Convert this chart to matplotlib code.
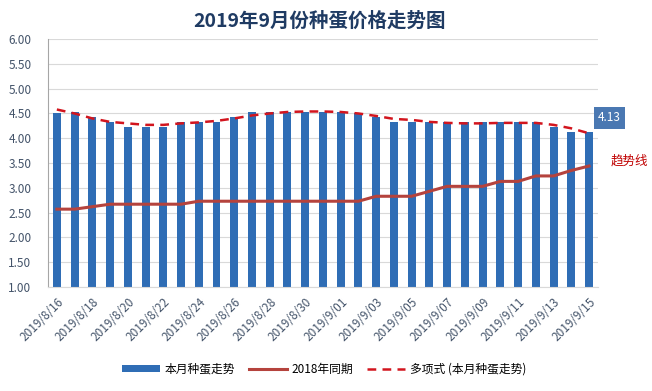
import numpy as np
import matplotlib
matplotlib.use("Agg")
import matplotlib.pyplot as plt

plt.rcParams['font.family'] = ['Noto Sans CJK SC', 'DejaVu Sans']

# 2019/8/16 .. 2019/9/15
dates = ['2019/8/%d' % d for d in range(16, 32)] + ['2019/9/%02d' % d for d in range(1, 16)]

price_2019 = [4.50, 4.53, 4.43, 4.33, 4.23, 4.23, 4.23, 4.33, 4.33, 4.33,
              4.43, 4.53, 4.53, 4.53, 4.53, 4.53, 4.53, 4.50, 4.43, 4.33,
              4.33, 4.33, 4.33, 4.33, 4.33, 4.33, 4.33, 4.33, 4.23, 4.13, 4.13]

price_2018 = [2.57, 2.57, 2.62, 2.67, 2.67, 2.67, 2.67, 2.67, 2.73, 2.73,
              2.73, 2.73, 2.73, 2.73, 2.73, 2.73, 2.73, 2.73, 2.83, 2.83,
              2.83, 2.93, 3.03, 3.03, 3.03, 3.13, 3.13, 3.24, 3.24, 3.35, 3.44]

trend = [4.58, 4.50, 4.40, 4.33, 4.30, 4.27, 4.27, 4.30, 4.32, 4.35,
         4.40, 4.46, 4.50, 4.53, 4.54, 4.54, 4.53, 4.50, 4.45, 4.39,
         4.37, 4.33, 4.31, 4.30, 4.30, 4.31, 4.31, 4.31, 4.27, 4.20, 4.10]

x = np.arange(len(dates))

fig = plt.figure(figsize=(6.52, 3.91), dpi=100)
ax = fig.add_axes([0.0736, 0.266, 0.8434, 0.634])

bars = ax.bar(x, price_2019, width=0.45, color='#2F6DB5', label='本月种蛋走势', zorder=2)
l18, = ax.plot(x, price_2018, color='#B5433D', lw=2.2, label='2018年同期', zorder=3)
ltr, = ax.plot(x, trend, color='#D2151E', lw=1.8, ls=(0, (3.5, 2.5)), label='多项式 (本月种蛋走势)', zorder=4)

ax.set_ylim(1.0, 6.0)
ax.set_xlim(-0.5, 30.5)
ax.set_yticks(np.arange(1.0, 6.01, 0.5))
ax.set_yticklabels(['%.2f' % v for v in np.arange(1.0, 6.01, 0.5)])
ax.yaxis.grid(True, color='#D9D9D9', lw=0.8, zorder=0)
ax.set_axisbelow(True)

ax.set_xticks(x[::2])
ax.set_xticklabels(dates[::2], rotation=45, ha='right', rotation_mode='anchor')

for s in ['top', 'right']:
    ax.spines[s].set_visible(False)
ax.spines['left'].set_color('#A6A6A6')
ax.spines['bottom'].set_color('#D9D9D9')
ax.tick_params(axis='both', length=0, labelsize=8.5, labelcolor='#44546A')
ax.tick_params(axis='x', pad=6)
ax.tick_params(axis='y', pad=12)

fig.text(0.49, 0.945, '2019年9月份种蛋价格走势图', ha='center', va='center',
         fontsize=14, fontweight='bold', color='#1F3B63')

# last value label and trend note
ax.annotate('%.2f' % price_2019[-1], xy=(x[-1], price_2019[-1]), xytext=(14.5, 10),
            textcoords='offset points', ha='center', va='center', fontsize=8.5,
            color='white', bbox=dict(boxstyle='square,pad=0.35', fc='#4A78B2', ec='none'))
fig.text(0.965, 0.588, '趋势线', ha='center', va='center', fontsize=9, color='#C00000')

fig.legend(handles=[bars, l18, ltr], loc='center', bbox_to_anchor=(0.497, 0.055), ncol=3,
           frameon=False, fontsize=8.5, handlelength=3.2, handleheight=0.5,
           columnspacing=1.2, handletextpad=0.4)

fig.savefig('out.png', dpi=100)
